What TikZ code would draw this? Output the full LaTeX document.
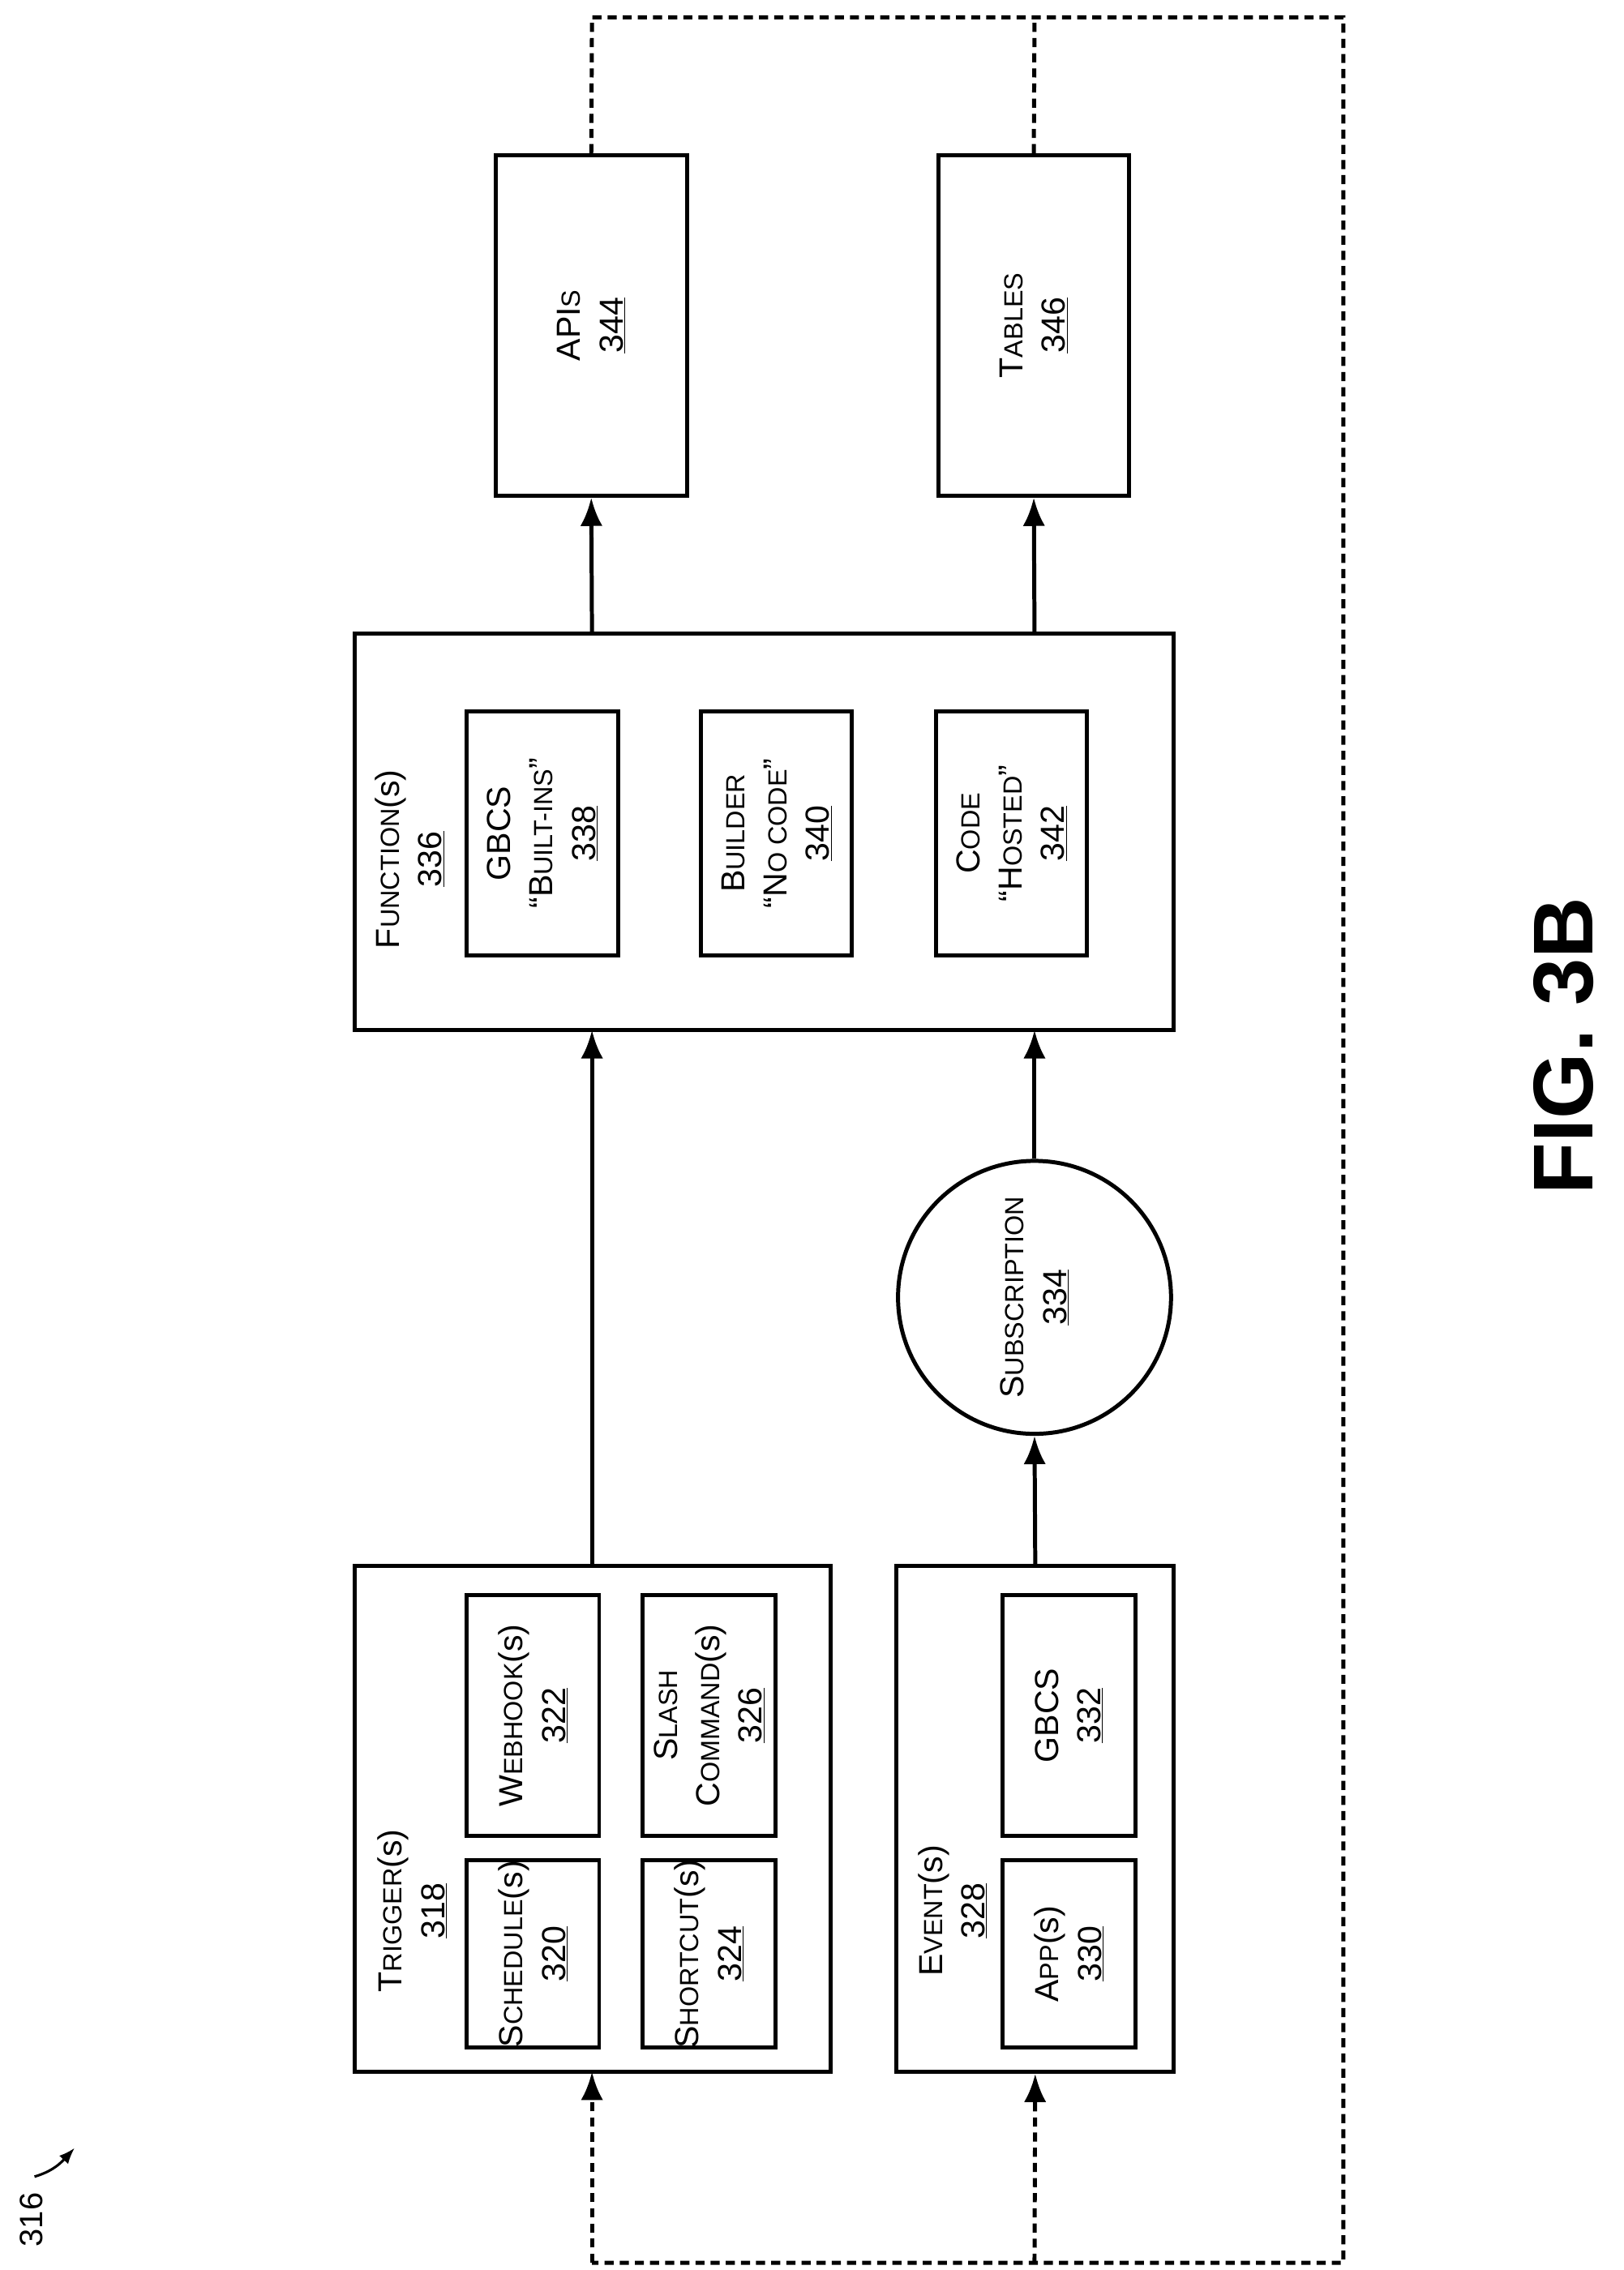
\documentclass[tikz,border=0pt]{standalone}
\usepackage{fontspec}
\setmainfont{Liberation Sans}
\usetikzlibrary{arrows.meta}
\newcommand{\fsc}[2]{#1{\fontsize{26}{42}\selectfont #2}}
\begin{document}
\begin{tikzpicture}[x=0.05cm,y=-0.05cm,line width=4pt,
  box/.style={draw,rectangle},
  txt/.style={rotate=90,align=center,font=\fontsize{33}{42}\selectfont},
  arr/.style={-{Latex[length=28pt,width=22pt]}},
  loopline/.style={dash pattern=on 9pt off 6pt}]
\useasboundingbox (0,0) rectangle (1130,1580);

\node[box,minimum width=16.55cm,minimum height=17.6cm] (trig) at (412.5,1266) {};
\node[txt] (trigl) at (287,1330) {\fsc{T}{RIGGER}(s)\\\underline{318}};
\node[box,minimum width=4.6cm,minimum height=6.5cm] (sched) at (371,1360) {};
\node[txt] at (sched) {\fsc{S}{CHEDULE}(s)\\\underline{320}};
\node[box,minimum width=4.6cm,minimum height=8.4cm] (hook) at (371,1194) {};
\node[txt] at (hook) {\fsc{W}{EBHOOK}(s)\\\underline{322}};
\node[box,minimum width=4.65cm,minimum height=6.5cm] (short) at (493.5,1360) {};
\node[txt] at (short) {\fsc{S}{HORTCUT}(s)\\\underline{324}};
\node[box,minimum width=4.65cm,minimum height=8.4cm] (slash) at (493.5,1194) {};
\node[txt] at (slash) {\fsc{S}{LASH}\\\fsc{C}{OMMAND}(s)\\\underline{326}};

\node[box,minimum width=9.65cm,minimum height=17.6cm] (event) at (720.5,1266) {};
\node[txt] (eventl) at (663,1330) {\fsc{E}{VENT}(s)\\\underline{328}};
\node[box,minimum width=4.6cm,minimum height=6.5cm] (app) at (744,1360) {};
\node[txt] at (app) {\fsc{A}{PP}(s)\\\underline{330}};
\node[box,minimum width=4.6cm,minimum height=8.4cm] (gbcs) at (744,1194) {};
\node[txt] at (gbcs) {GBCS\\\underline{332}};

\node[draw,circle,minimum size=9.5cm] (sub) at (720,903) {};
\node[txt] at (sub) {\fsc{S}{UBSCRIPTION}\\\underline{334}};

\node[box,minimum width=28.5cm,minimum height=13.8cm] (func) at (532,579) {};
\node[txt] (funcl) at (285,598) {\fsc{F}{UNCTION}(s)\\\underline{336}};
\node[box,minimum width=5.25cm,minimum height=8.5cm] (built) at (377.5,580) {};
\node[txt] at (built) {GBCS\\``\fsc{B}{UILT-INS}''\\\underline{338}};
\node[box,minimum width=5.25cm,minimum height=8.5cm] (build) at (540.5,580) {};
\node[txt] at (build) {\fsc{B}{UILDER}\\``\fsc{N}{O CODE}''\\\underline{340}};
\node[box,minimum width=5.25cm,minimum height=8.5cm] (code) at (704,580) {};
\node[txt] at (code) {\fsc{C}{ODE}\\``\fsc{H}{OSTED}''\\\underline{342}};

\node[box,minimum width=6.65cm,minimum height=11.85cm] (api) at (411.5,226.5) {};
\node[txt] at (api) {API{\fontsize{26}{42}\selectfont S}\\\underline{344}};
\node[box,minimum width=6.65cm,minimum height=11.85cm] (tab) at (719.5,226.5) {};
\node[txt] at (tab) {\fsc{T}{ABLES}\\\underline{346}};

% connectors
\draw[arr] (412,1090) -- (412,717);
\draw[arr] (event.north) -- (sub.south);
\draw[arr] (sub.north) -- (720,717);
\draw[arr] (412,441) -- (api.south);
\draw[arr] (720,441) -- (tab.south);

% feedback loop
\coordinate (tl) at (935,12);
\coordinate (bl) at (935,1575);
\draw[loopline] (api.north) -- (412,12) -- (tl) -- (bl) -- (412,1575);
\draw[loopline] (tab.north) -- (720,12);
\draw[loopline,arr] (412,1575) -- (412,1442);
\draw[loopline,arr] (720,1575) -- (event.south);

\node[rotate=90,font=\bfseries\fontsize{84}{90}\selectfont] (fig) at (1088,728) {FIG. 3B};
\node[rotate=90,font=\fontsize{32}{36}\selectfont] (num) at (22,1545) {316};
\coordinate (numt) at (52,1495);
\draw[line width=2.5pt,-{Latex[length=16pt,width=12pt]}] (24,1515) .. controls (34,1512) and (40,1508) .. (numt);
\end{tikzpicture}
\end{document}
